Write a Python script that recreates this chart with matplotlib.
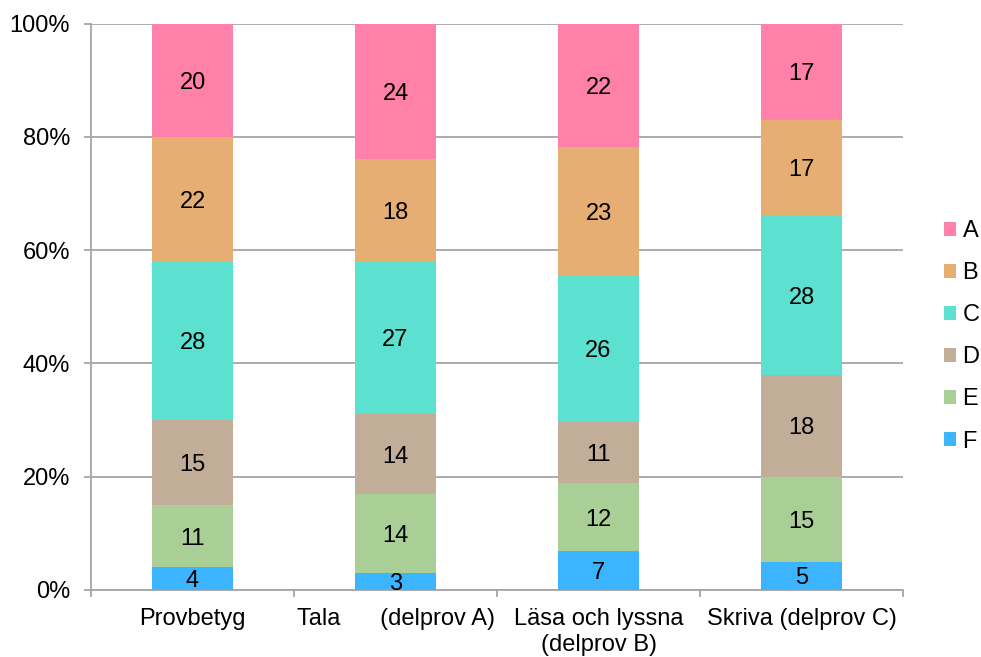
import matplotlib
matplotlib.use("Agg")
import matplotlib.pyplot as plt
from matplotlib.patches import Patch
from matplotlib.ticker import FixedLocator, PercentFormatter
import numpy as np

plt.rcParams["font.family"] = ["Liberation Sans", "DejaVu Sans"]

# data (rounded percentages as shown in the labels)
categories = ["Provbetyg", "Tala      (delprov A)", "Läsa och lyssna\n(delprov B)", "Skriva (delprov C)"]
grades = ["F", "E", "D", "C", "B", "A"]
F = [4, 3, 7, 5]
E = [11, 14, 12, 15]
D = [15, 14, 11, 18]
C = [28, 27, 26, 28]
B = [22, 18, 23, 17]
A = [20, 24, 22, 17]
colors = {"A": "#FF80A8", "B": "#E6AE73", "C": "#5CE0CF",
          "D": "#C2AD98", "E": "#AACF96", "F": "#3DB4FF"}

series = {"F": F, "E": E, "D": D, "C": C, "B": B, "A": A}
totals = np.sum([series[g] for g in grades], axis=0)
fs = 17

fig = plt.figure(figsize=(9.81, 6.57), dpi=100)
ax = fig.add_axes([0.0928, 0.102, 0.8277, 0.8622])

x = np.arange(len(categories))
bottom = np.zeros(len(categories))
for g in grades:
    vals = np.array(series[g], dtype=float)
    pct = vals / totals * 100
    ax.bar(x, pct, width=0.4, bottom=bottom, color=colors[g], zorder=3)
    for xi, b, p, v in zip(x, bottom, pct, vals):
        ax.text(xi, b + p / 2, f"{int(v)}", ha="center", va="center_baseline",
                fontsize=fs, color="black", zorder=4)
    bottom += pct

ax.set_xlim(-0.5, len(categories) - 0.5)
ax.set_ylim(0, 100)
ax.set_yticks(np.arange(0, 101, 20))
ax.yaxis.set_major_formatter(PercentFormatter(decimals=0))
ax.grid(axis="y", color="#A6A6A6", linewidth=1.3, zorder=0)

ax.set_xticks(x)
ax.set_xticklabels(categories, fontsize=fs, linespacing=1.25)
ax.xaxis.set_minor_locator(FixedLocator(np.arange(-0.5, len(categories), 1.0)))
ax.tick_params(axis="x", which="major", length=0, pad=13)
ax.tick_params(axis="x", which="minor", length=5, color="#A6A6A6", width=1.3)
ax.tick_params(axis="y", length=5, color="#A6A6A6", width=1.3, labelsize=fs, pad=10)

for s in ["top", "right"]:
    ax.spines[s].set_visible(False)
for s in ["left", "bottom"]:
    ax.spines[s].set_color("#A6A6A6")
    ax.spines[s].set_linewidth(1.3)

handles = [Patch(facecolor=colors[g], label=g) for g in grades[::-1]]
fig.legend(handles=handles, loc="center left", bbox_to_anchor=(0.962, 0.488),
           frameon=False, fontsize=fs, handlelength=0.5, handleheight=0.5,
           handletextpad=0.3, labelspacing=0.85, borderaxespad=0, borderpad=0)

fig.savefig("out.png", dpi=100)
